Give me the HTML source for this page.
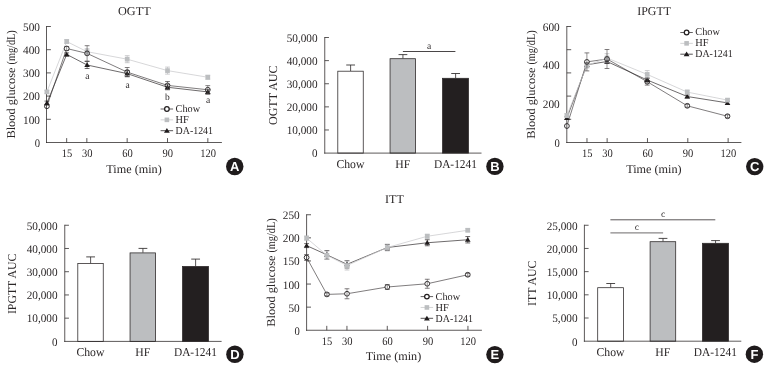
<!DOCTYPE html>
<html lang="en">
<head>
<meta charset="utf-8">
<title>OGTT, IPGTT and ITT in Chow, HF and DA-1241 groups</title>
<style>
html,body{margin:0;padding:0;background:#fff;}
body{width:770px;height:370px;overflow:hidden;}
svg{display:block;font-family:"Liberation Serif","DejaVu Serif",serif;will-change:transform;text-rendering:geometricPrecision;}
</style>
</head>
<body>
<svg width="770" height="370" viewBox="0 0 770 370">
<rect width="770" height="370" fill="#fff"/>
<polyline points="46.90,106.25 66.70,48.50 87.10,53.40 127.20,72.10 167.50,85.40 207.80,89.75" fill="none" stroke="#3a3637" stroke-width="0.65" stroke-linejoin="round"/>
<circle cx="46.90" cy="106.25" r="2.4" fill="#fff"/>
<circle cx="66.70" cy="48.50" r="2.4" fill="#fff"/>
<circle cx="87.10" cy="53.40" r="2.4" fill="#fff"/>
<circle cx="127.20" cy="72.10" r="2.4" fill="#fff"/>
<circle cx="167.50" cy="85.40" r="2.4" fill="#fff"/>
<circle cx="207.80" cy="89.75" r="2.4" fill="#fff"/>
<line x1="46.50" y1="26.00" x2="46.50" y2="143.00" stroke="#2e2a2b" stroke-width="0.78" stroke-linecap="butt"/>
<line x1="46.00" y1="142.50" x2="221.90" y2="142.50" stroke="#2e2a2b" stroke-width="0.78" stroke-linecap="butt"/>
<line x1="46.50" y1="26.50" x2="50.90" y2="26.50" stroke="#2e2a2b" stroke-width="0.78" stroke-linecap="butt"/>
<line x1="46.50" y1="49.70" x2="50.90" y2="49.70" stroke="#2e2a2b" stroke-width="0.78" stroke-linecap="butt"/>
<line x1="46.50" y1="72.90" x2="50.90" y2="72.90" stroke="#2e2a2b" stroke-width="0.78" stroke-linecap="butt"/>
<line x1="46.50" y1="96.10" x2="50.90" y2="96.10" stroke="#2e2a2b" stroke-width="0.78" stroke-linecap="butt"/>
<line x1="46.50" y1="119.30" x2="50.90" y2="119.30" stroke="#2e2a2b" stroke-width="0.78" stroke-linecap="butt"/>
<line x1="66.67" y1="142.50" x2="66.67" y2="138.10" stroke="#2e2a2b" stroke-width="0.78" stroke-linecap="butt"/>
<text x="66.97" y="156.90" font-size="11.5" text-anchor="middle" fill="#2b2728" textLength="10.50" lengthAdjust="spacingAndGlyphs">15</text>
<line x1="86.84" y1="142.50" x2="86.84" y2="138.10" stroke="#2e2a2b" stroke-width="0.78" stroke-linecap="butt"/>
<text x="87.14" y="156.90" font-size="11.5" text-anchor="middle" fill="#2b2728" textLength="10.50" lengthAdjust="spacingAndGlyphs">30</text>
<line x1="127.17" y1="142.50" x2="127.17" y2="138.10" stroke="#2e2a2b" stroke-width="0.78" stroke-linecap="butt"/>
<text x="127.47" y="156.90" font-size="11.5" text-anchor="middle" fill="#2b2728" textLength="10.50" lengthAdjust="spacingAndGlyphs">60</text>
<line x1="167.50" y1="142.50" x2="167.50" y2="138.10" stroke="#2e2a2b" stroke-width="0.78" stroke-linecap="butt"/>
<text x="167.81" y="156.90" font-size="11.5" text-anchor="middle" fill="#2b2728" textLength="10.50" lengthAdjust="spacingAndGlyphs">90</text>
<line x1="207.84" y1="142.50" x2="207.84" y2="138.10" stroke="#2e2a2b" stroke-width="0.78" stroke-linecap="butt"/>
<text x="208.14" y="156.90" font-size="11.5" text-anchor="middle" fill="#2b2728" textLength="15.75" lengthAdjust="spacingAndGlyphs">120</text>
<polyline points="46.90,103.10 66.70,54.40 87.10,65.00 127.20,73.60 167.50,87.25 207.80,91.90" fill="none" stroke="#2f2b2c" stroke-width="0.7" stroke-linejoin="round"/>
<line x1="46.90" y1="101.10" x2="46.90" y2="105.10" stroke="#2f2b2c" stroke-width="0.6" stroke-linecap="butt"/>
<line x1="44.50" y1="101.10" x2="49.30" y2="101.10" stroke="#2f2b2c" stroke-width="0.7" stroke-linecap="butt"/>
<line x1="44.50" y1="105.10" x2="49.30" y2="105.10" stroke="#2f2b2c" stroke-width="0.7" stroke-linecap="butt"/>
<line x1="66.70" y1="52.90" x2="66.70" y2="55.90" stroke="#2f2b2c" stroke-width="0.6" stroke-linecap="butt"/>
<line x1="64.30" y1="52.90" x2="69.10" y2="52.90" stroke="#2f2b2c" stroke-width="0.7" stroke-linecap="butt"/>
<line x1="64.30" y1="55.90" x2="69.10" y2="55.90" stroke="#2f2b2c" stroke-width="0.7" stroke-linecap="butt"/>
<line x1="87.10" y1="61.50" x2="87.10" y2="68.50" stroke="#2f2b2c" stroke-width="0.6" stroke-linecap="butt"/>
<line x1="84.70" y1="61.50" x2="89.50" y2="61.50" stroke="#2f2b2c" stroke-width="0.7" stroke-linecap="butt"/>
<line x1="84.70" y1="68.50" x2="89.50" y2="68.50" stroke="#2f2b2c" stroke-width="0.7" stroke-linecap="butt"/>
<line x1="127.20" y1="70.60" x2="127.20" y2="76.60" stroke="#2f2b2c" stroke-width="0.6" stroke-linecap="butt"/>
<line x1="124.80" y1="70.60" x2="129.60" y2="70.60" stroke="#2f2b2c" stroke-width="0.7" stroke-linecap="butt"/>
<line x1="124.80" y1="76.60" x2="129.60" y2="76.60" stroke="#2f2b2c" stroke-width="0.7" stroke-linecap="butt"/>
<line x1="167.50" y1="84.75" x2="167.50" y2="89.75" stroke="#2f2b2c" stroke-width="0.6" stroke-linecap="butt"/>
<line x1="165.10" y1="84.75" x2="169.90" y2="84.75" stroke="#2f2b2c" stroke-width="0.7" stroke-linecap="butt"/>
<line x1="165.10" y1="89.75" x2="169.90" y2="89.75" stroke="#2f2b2c" stroke-width="0.7" stroke-linecap="butt"/>
<line x1="207.80" y1="89.70" x2="207.80" y2="94.10" stroke="#2f2b2c" stroke-width="0.6" stroke-linecap="butt"/>
<line x1="205.40" y1="89.70" x2="210.20" y2="89.70" stroke="#2f2b2c" stroke-width="0.7" stroke-linecap="butt"/>
<line x1="205.40" y1="94.10" x2="210.20" y2="94.10" stroke="#2f2b2c" stroke-width="0.7" stroke-linecap="butt"/>
<path d="M46.90 100.40 L49.70 105.10 L44.10 105.10Z" fill="#1f1b1c"/>
<path d="M66.70 51.70 L69.50 56.40 L63.90 56.40Z" fill="#1f1b1c"/>
<path d="M87.10 62.30 L89.90 67.00 L84.30 67.00Z" fill="#1f1b1c"/>
<path d="M127.20 70.90 L130.00 75.60 L124.40 75.60Z" fill="#1f1b1c"/>
<path d="M167.50 84.55 L170.30 89.25 L164.70 89.25Z" fill="#1f1b1c"/>
<path d="M207.80 89.20 L210.60 93.90 L205.00 93.90Z" fill="#1f1b1c"/>
<polyline points="46.90,91.90 66.70,41.50 87.10,51.70 127.20,59.20 167.50,70.60 207.80,77.25" fill="none" stroke="#c9cacc" stroke-width="0.75" stroke-linejoin="round"/>
<line x1="46.90" y1="90.40" x2="46.90" y2="93.40" stroke="#b4b5b8" stroke-width="0.6" stroke-linecap="butt"/>
<line x1="44.50" y1="90.40" x2="49.30" y2="90.40" stroke="#b4b5b8" stroke-width="0.7" stroke-linecap="butt"/>
<line x1="44.50" y1="93.40" x2="49.30" y2="93.40" stroke="#b4b5b8" stroke-width="0.7" stroke-linecap="butt"/>
<line x1="66.70" y1="39.70" x2="66.70" y2="43.30" stroke="#b4b5b8" stroke-width="0.6" stroke-linecap="butt"/>
<line x1="64.30" y1="39.70" x2="69.10" y2="39.70" stroke="#b4b5b8" stroke-width="0.7" stroke-linecap="butt"/>
<line x1="64.30" y1="43.30" x2="69.10" y2="43.30" stroke="#b4b5b8" stroke-width="0.7" stroke-linecap="butt"/>
<line x1="87.10" y1="48.70" x2="87.10" y2="54.70" stroke="#b4b5b8" stroke-width="0.6" stroke-linecap="butt"/>
<line x1="84.70" y1="48.70" x2="89.50" y2="48.70" stroke="#b4b5b8" stroke-width="0.7" stroke-linecap="butt"/>
<line x1="84.70" y1="54.70" x2="89.50" y2="54.70" stroke="#b4b5b8" stroke-width="0.7" stroke-linecap="butt"/>
<line x1="127.20" y1="55.70" x2="127.20" y2="62.70" stroke="#b4b5b8" stroke-width="0.6" stroke-linecap="butt"/>
<line x1="124.80" y1="55.70" x2="129.60" y2="55.70" stroke="#b4b5b8" stroke-width="0.7" stroke-linecap="butt"/>
<line x1="124.80" y1="62.70" x2="129.60" y2="62.70" stroke="#b4b5b8" stroke-width="0.7" stroke-linecap="butt"/>
<line x1="167.50" y1="67.10" x2="167.50" y2="74.10" stroke="#b4b5b8" stroke-width="0.6" stroke-linecap="butt"/>
<line x1="165.10" y1="67.10" x2="169.90" y2="67.10" stroke="#b4b5b8" stroke-width="0.7" stroke-linecap="butt"/>
<line x1="165.10" y1="74.10" x2="169.90" y2="74.10" stroke="#b4b5b8" stroke-width="0.7" stroke-linecap="butt"/>
<line x1="207.80" y1="75.25" x2="207.80" y2="79.25" stroke="#b4b5b8" stroke-width="0.6" stroke-linecap="butt"/>
<line x1="205.40" y1="75.25" x2="210.20" y2="75.25" stroke="#b4b5b8" stroke-width="0.7" stroke-linecap="butt"/>
<line x1="205.40" y1="79.25" x2="210.20" y2="79.25" stroke="#b4b5b8" stroke-width="0.7" stroke-linecap="butt"/>
<rect x="44.55" y="89.55" width="4.7" height="4.7" fill="#bcbec0"/>
<rect x="64.35" y="39.15" width="4.7" height="4.7" fill="#bcbec0"/>
<rect x="84.75" y="49.35" width="4.7" height="4.7" fill="#bcbec0"/>
<rect x="124.85" y="56.85" width="4.7" height="4.7" fill="#bcbec0"/>
<rect x="165.15" y="68.25" width="4.7" height="4.7" fill="#bcbec0"/>
<rect x="205.45" y="74.90" width="4.7" height="4.7" fill="#bcbec0"/>
<circle cx="46.90" cy="106.25" r="2.4" fill="none" stroke="#231f20" stroke-width="0.9"/>
<circle cx="66.70" cy="48.50" r="2.4" fill="none" stroke="#231f20" stroke-width="0.9"/>
<circle cx="87.10" cy="53.40" r="2.4" fill="none" stroke="#231f20" stroke-width="0.9"/>
<circle cx="127.20" cy="72.10" r="2.4" fill="none" stroke="#231f20" stroke-width="0.9"/>
<circle cx="167.50" cy="85.40" r="2.4" fill="none" stroke="#231f20" stroke-width="0.9"/>
<circle cx="207.80" cy="89.75" r="2.4" fill="none" stroke="#231f20" stroke-width="0.9"/>
<line x1="66.70" y1="46.50" x2="66.70" y2="50.50" stroke="#4a4647" stroke-width="0.6" stroke-linecap="butt"/>
<line x1="64.30" y1="46.50" x2="69.10" y2="46.50" stroke="#4a4647" stroke-width="0.7" stroke-linecap="butt"/>
<line x1="64.30" y1="50.50" x2="69.10" y2="50.50" stroke="#4a4647" stroke-width="0.7" stroke-linecap="butt"/>
<line x1="87.10" y1="45.70" x2="87.10" y2="61.10" stroke="#4a4647" stroke-width="0.6" stroke-linecap="butt"/>
<line x1="84.70" y1="45.70" x2="89.50" y2="45.70" stroke="#4a4647" stroke-width="0.7" stroke-linecap="butt"/>
<line x1="84.70" y1="61.10" x2="89.50" y2="61.10" stroke="#4a4647" stroke-width="0.7" stroke-linecap="butt"/>
<line x1="127.20" y1="67.50" x2="127.20" y2="76.70" stroke="#4a4647" stroke-width="0.6" stroke-linecap="butt"/>
<line x1="124.80" y1="67.50" x2="129.60" y2="67.50" stroke="#4a4647" stroke-width="0.7" stroke-linecap="butt"/>
<line x1="124.80" y1="76.70" x2="129.60" y2="76.70" stroke="#4a4647" stroke-width="0.7" stroke-linecap="butt"/>
<line x1="167.50" y1="81.50" x2="167.50" y2="89.30" stroke="#4a4647" stroke-width="0.6" stroke-linecap="butt"/>
<line x1="165.10" y1="81.50" x2="169.90" y2="81.50" stroke="#4a4647" stroke-width="0.7" stroke-linecap="butt"/>
<line x1="165.10" y1="89.30" x2="169.90" y2="89.30" stroke="#4a4647" stroke-width="0.7" stroke-linecap="butt"/>
<line x1="207.80" y1="85.65" x2="207.80" y2="93.85" stroke="#4a4647" stroke-width="0.6" stroke-linecap="butt"/>
<line x1="205.40" y1="85.65" x2="210.20" y2="85.65" stroke="#4a4647" stroke-width="0.7" stroke-linecap="butt"/>
<line x1="205.40" y1="93.85" x2="210.20" y2="93.85" stroke="#4a4647" stroke-width="0.7" stroke-linecap="butt"/>
<text x="40.00" y="30.70" font-size="11.5" text-anchor="end" fill="#2b2728" textLength="16.95" lengthAdjust="spacingAndGlyphs">500</text>
<text x="40.00" y="53.90" font-size="11.5" text-anchor="end" fill="#2b2728" textLength="16.95" lengthAdjust="spacingAndGlyphs">400</text>
<text x="40.00" y="77.10" font-size="11.5" text-anchor="end" fill="#2b2728" textLength="16.95" lengthAdjust="spacingAndGlyphs">300</text>
<text x="40.00" y="100.30" font-size="11.5" text-anchor="end" fill="#2b2728" textLength="16.95" lengthAdjust="spacingAndGlyphs">200</text>
<text x="40.00" y="123.50" font-size="11.5" text-anchor="end" fill="#2b2728" textLength="16.95" lengthAdjust="spacingAndGlyphs">100</text>
<text x="40.00" y="146.70" font-size="11.5" text-anchor="end" fill="#2b2728" textLength="5.30" lengthAdjust="spacingAndGlyphs">0</text>
<text x="134.30" y="14.90" font-size="12" text-anchor="middle" fill="#2b2728" textLength="32.70" lengthAdjust="spacingAndGlyphs">OGTT</text>
<text x="15.50" y="138.60" font-size="12" text-anchor="start" fill="#2b2728" textLength="71.20" lengthAdjust="spacingAndGlyphs" transform="rotate(-90 15.50 138.60)">Blood glucose</text>
<text x="15.50" y="30.20" font-size="12" text-anchor="end" fill="#2b2728" textLength="34.30" lengthAdjust="spacingAndGlyphs" transform="rotate(-90 15.50 30.20)">(mg/dL)</text>
<text x="134.00" y="172.50" font-size="12" text-anchor="middle" fill="#2b2728" textLength="55.40" lengthAdjust="spacingAndGlyphs">Time (min)</text>
<line x1="160.60" y1="109.00" x2="173.10" y2="109.00" stroke="#3a3637" stroke-width="0.8" stroke-linecap="butt"/>
<circle cx="166.90" cy="109.00" r="2.3" fill="#fff" stroke="#231f20" stroke-width="1.25"/>
<text x="175.60" y="112.20" font-size="10.6" text-anchor="start" fill="#2b2728" textLength="24.60" lengthAdjust="spacingAndGlyphs">Chow</text>
<line x1="160.60" y1="119.85" x2="173.10" y2="119.85" stroke="#c9cacc" stroke-width="0.8" stroke-linecap="butt"/>
<rect x="164.60" y="117.55" width="4.6" height="4.6" fill="#bcbec0"/>
<text x="175.60" y="123.05" font-size="10.6" text-anchor="start" fill="#2b2728" textLength="13.30" lengthAdjust="spacingAndGlyphs">HF</text>
<line x1="160.60" y1="130.70" x2="173.10" y2="130.70" stroke="#2b2728" stroke-width="0.8" stroke-linecap="butt"/>
<path d="M166.90 128.10 L169.80 132.80 L164.00 132.80Z" fill="#1f1b1c"/>
<text x="175.60" y="133.90" font-size="10.6" text-anchor="start" fill="#2b2728" textLength="37.40" lengthAdjust="spacingAndGlyphs">DA-1241</text>
<text x="87.25" y="78.50" font-size="9.5" text-anchor="middle" fill="#2b2728">a</text>
<text x="127.50" y="87.50" font-size="9.5" text-anchor="middle" fill="#2b2728">a</text>
<text x="167.25" y="99.60" font-size="9.5" text-anchor="middle" fill="#2b2728">b</text>
<text x="208.10" y="102.75" font-size="9.5" text-anchor="middle" fill="#2b2728">a</text>
<circle cx="234.75" cy="166.50" r="8.7" fill="#1f1b1c"/>
<text x="234.75" y="171.20" font-size="13" text-anchor="middle" fill="#fff" font-weight="bold" font-family="'Liberation Sans',Arial,sans-serif">A</text>
<polyline points="566.90,126.00 586.90,61.90 607.00,59.00 647.20,81.70 687.25,105.80 727.50,116.25" fill="none" stroke="#3a3637" stroke-width="0.65" stroke-linejoin="round"/>
<circle cx="566.90" cy="126.00" r="2.4" fill="#fff"/>
<circle cx="586.90" cy="61.90" r="2.4" fill="#fff"/>
<circle cx="607.00" cy="59.00" r="2.4" fill="#fff"/>
<circle cx="647.20" cy="81.70" r="2.4" fill="#fff"/>
<circle cx="687.25" cy="105.80" r="2.4" fill="#fff"/>
<circle cx="727.50" cy="116.25" r="2.4" fill="#fff"/>
<line x1="566.80" y1="26.00" x2="566.80" y2="143.00" stroke="#2e2a2b" stroke-width="0.78" stroke-linecap="butt"/>
<line x1="566.30" y1="142.50" x2="741.40" y2="142.50" stroke="#2e2a2b" stroke-width="0.78" stroke-linecap="butt"/>
<line x1="566.80" y1="26.50" x2="571.20" y2="26.50" stroke="#2e2a2b" stroke-width="0.78" stroke-linecap="butt"/>
<line x1="566.80" y1="49.70" x2="571.20" y2="49.70" stroke="#2e2a2b" stroke-width="0.78" stroke-linecap="butt"/>
<line x1="566.80" y1="72.90" x2="571.20" y2="72.90" stroke="#2e2a2b" stroke-width="0.78" stroke-linecap="butt"/>
<line x1="566.80" y1="96.10" x2="571.20" y2="96.10" stroke="#2e2a2b" stroke-width="0.78" stroke-linecap="butt"/>
<line x1="566.80" y1="119.30" x2="571.20" y2="119.30" stroke="#2e2a2b" stroke-width="0.78" stroke-linecap="butt"/>
<line x1="586.97" y1="142.50" x2="586.97" y2="138.10" stroke="#2e2a2b" stroke-width="0.78" stroke-linecap="butt"/>
<text x="587.27" y="156.90" font-size="11.5" text-anchor="middle" fill="#2b2728" textLength="10.50" lengthAdjust="spacingAndGlyphs">15</text>
<line x1="607.13" y1="142.50" x2="607.13" y2="138.10" stroke="#2e2a2b" stroke-width="0.78" stroke-linecap="butt"/>
<text x="607.43" y="156.90" font-size="11.5" text-anchor="middle" fill="#2b2728" textLength="10.50" lengthAdjust="spacingAndGlyphs">30</text>
<line x1="647.47" y1="142.50" x2="647.47" y2="138.10" stroke="#2e2a2b" stroke-width="0.78" stroke-linecap="butt"/>
<text x="647.77" y="156.90" font-size="11.5" text-anchor="middle" fill="#2b2728" textLength="10.50" lengthAdjust="spacingAndGlyphs">60</text>
<line x1="687.80" y1="142.50" x2="687.80" y2="138.10" stroke="#2e2a2b" stroke-width="0.78" stroke-linecap="butt"/>
<text x="688.10" y="156.90" font-size="11.5" text-anchor="middle" fill="#2b2728" textLength="10.50" lengthAdjust="spacingAndGlyphs">90</text>
<line x1="728.14" y1="142.50" x2="728.14" y2="138.10" stroke="#2e2a2b" stroke-width="0.78" stroke-linecap="butt"/>
<text x="728.44" y="156.90" font-size="11.5" text-anchor="middle" fill="#2b2728" textLength="15.75" lengthAdjust="spacingAndGlyphs">120</text>
<polyline points="566.90,117.90 586.90,64.80 607.00,61.50 647.20,80.00 687.25,96.50 727.50,102.90" fill="none" stroke="#2f2b2c" stroke-width="0.7" stroke-linejoin="round"/>
<line x1="566.90" y1="116.40" x2="566.90" y2="119.40" stroke="#2f2b2c" stroke-width="0.6" stroke-linecap="butt"/>
<line x1="564.50" y1="116.40" x2="569.30" y2="116.40" stroke="#2f2b2c" stroke-width="0.7" stroke-linecap="butt"/>
<line x1="564.50" y1="119.40" x2="569.30" y2="119.40" stroke="#2f2b2c" stroke-width="0.7" stroke-linecap="butt"/>
<line x1="586.90" y1="62.80" x2="586.90" y2="66.80" stroke="#2f2b2c" stroke-width="0.6" stroke-linecap="butt"/>
<line x1="584.50" y1="62.80" x2="589.30" y2="62.80" stroke="#2f2b2c" stroke-width="0.7" stroke-linecap="butt"/>
<line x1="584.50" y1="66.80" x2="589.30" y2="66.80" stroke="#2f2b2c" stroke-width="0.7" stroke-linecap="butt"/>
<line x1="607.00" y1="59.50" x2="607.00" y2="63.50" stroke="#2f2b2c" stroke-width="0.6" stroke-linecap="butt"/>
<line x1="604.60" y1="59.50" x2="609.40" y2="59.50" stroke="#2f2b2c" stroke-width="0.7" stroke-linecap="butt"/>
<line x1="604.60" y1="63.50" x2="609.40" y2="63.50" stroke="#2f2b2c" stroke-width="0.7" stroke-linecap="butt"/>
<line x1="647.20" y1="78.00" x2="647.20" y2="82.00" stroke="#2f2b2c" stroke-width="0.6" stroke-linecap="butt"/>
<line x1="644.80" y1="78.00" x2="649.60" y2="78.00" stroke="#2f2b2c" stroke-width="0.7" stroke-linecap="butt"/>
<line x1="644.80" y1="82.00" x2="649.60" y2="82.00" stroke="#2f2b2c" stroke-width="0.7" stroke-linecap="butt"/>
<line x1="687.25" y1="95.00" x2="687.25" y2="98.00" stroke="#2f2b2c" stroke-width="0.6" stroke-linecap="butt"/>
<line x1="684.85" y1="95.00" x2="689.65" y2="95.00" stroke="#2f2b2c" stroke-width="0.7" stroke-linecap="butt"/>
<line x1="684.85" y1="98.00" x2="689.65" y2="98.00" stroke="#2f2b2c" stroke-width="0.7" stroke-linecap="butt"/>
<line x1="727.50" y1="101.40" x2="727.50" y2="104.40" stroke="#2f2b2c" stroke-width="0.6" stroke-linecap="butt"/>
<line x1="725.10" y1="101.40" x2="729.90" y2="101.40" stroke="#2f2b2c" stroke-width="0.7" stroke-linecap="butt"/>
<line x1="725.10" y1="104.40" x2="729.90" y2="104.40" stroke="#2f2b2c" stroke-width="0.7" stroke-linecap="butt"/>
<path d="M566.90 115.20 L569.70 119.90 L564.10 119.90Z" fill="#1f1b1c"/>
<path d="M586.90 62.10 L589.70 66.80 L584.10 66.80Z" fill="#1f1b1c"/>
<path d="M607.00 58.80 L609.80 63.50 L604.20 63.50Z" fill="#1f1b1c"/>
<path d="M647.20 77.30 L650.00 82.00 L644.40 82.00Z" fill="#1f1b1c"/>
<path d="M687.25 93.80 L690.05 98.50 L684.45 98.50Z" fill="#1f1b1c"/>
<path d="M727.50 100.20 L730.30 104.90 L724.70 104.90Z" fill="#1f1b1c"/>
<polyline points="566.90,115.60 586.90,65.50 607.00,58.00 647.20,74.40 687.25,92.10 727.50,100.10" fill="none" stroke="#c9cacc" stroke-width="0.75" stroke-linejoin="round"/>
<line x1="566.90" y1="113.60" x2="566.90" y2="117.60" stroke="#b4b5b8" stroke-width="0.6" stroke-linecap="butt"/>
<line x1="564.50" y1="113.60" x2="569.30" y2="113.60" stroke="#b4b5b8" stroke-width="0.7" stroke-linecap="butt"/>
<line x1="564.50" y1="117.60" x2="569.30" y2="117.60" stroke="#b4b5b8" stroke-width="0.7" stroke-linecap="butt"/>
<line x1="586.90" y1="63.00" x2="586.90" y2="68.00" stroke="#b4b5b8" stroke-width="0.6" stroke-linecap="butt"/>
<line x1="584.50" y1="63.00" x2="589.30" y2="63.00" stroke="#b4b5b8" stroke-width="0.7" stroke-linecap="butt"/>
<line x1="584.50" y1="68.00" x2="589.30" y2="68.00" stroke="#b4b5b8" stroke-width="0.7" stroke-linecap="butt"/>
<line x1="607.00" y1="53.70" x2="607.00" y2="62.30" stroke="#b4b5b8" stroke-width="0.6" stroke-linecap="butt"/>
<line x1="604.60" y1="53.70" x2="609.40" y2="53.70" stroke="#b4b5b8" stroke-width="0.7" stroke-linecap="butt"/>
<line x1="604.60" y1="62.30" x2="609.40" y2="62.30" stroke="#b4b5b8" stroke-width="0.7" stroke-linecap="butt"/>
<line x1="647.20" y1="70.60" x2="647.20" y2="78.20" stroke="#b4b5b8" stroke-width="0.6" stroke-linecap="butt"/>
<line x1="644.80" y1="70.60" x2="649.60" y2="70.60" stroke="#b4b5b8" stroke-width="0.7" stroke-linecap="butt"/>
<line x1="644.80" y1="78.20" x2="649.60" y2="78.20" stroke="#b4b5b8" stroke-width="0.7" stroke-linecap="butt"/>
<line x1="687.25" y1="90.10" x2="687.25" y2="94.10" stroke="#b4b5b8" stroke-width="0.6" stroke-linecap="butt"/>
<line x1="684.85" y1="90.10" x2="689.65" y2="90.10" stroke="#b4b5b8" stroke-width="0.7" stroke-linecap="butt"/>
<line x1="684.85" y1="94.10" x2="689.65" y2="94.10" stroke="#b4b5b8" stroke-width="0.7" stroke-linecap="butt"/>
<line x1="727.50" y1="98.60" x2="727.50" y2="101.60" stroke="#b4b5b8" stroke-width="0.6" stroke-linecap="butt"/>
<line x1="725.10" y1="98.60" x2="729.90" y2="98.60" stroke="#b4b5b8" stroke-width="0.7" stroke-linecap="butt"/>
<line x1="725.10" y1="101.60" x2="729.90" y2="101.60" stroke="#b4b5b8" stroke-width="0.7" stroke-linecap="butt"/>
<rect x="564.55" y="113.25" width="4.7" height="4.7" fill="#bcbec0"/>
<rect x="584.55" y="63.15" width="4.7" height="4.7" fill="#bcbec0"/>
<rect x="604.65" y="55.65" width="4.7" height="4.7" fill="#bcbec0"/>
<rect x="644.85" y="72.05" width="4.7" height="4.7" fill="#bcbec0"/>
<rect x="684.90" y="89.75" width="4.7" height="4.7" fill="#bcbec0"/>
<rect x="725.15" y="97.75" width="4.7" height="4.7" fill="#bcbec0"/>
<circle cx="566.90" cy="126.00" r="2.4" fill="none" stroke="#231f20" stroke-width="0.9"/>
<circle cx="586.90" cy="61.90" r="2.4" fill="none" stroke="#231f20" stroke-width="0.9"/>
<circle cx="607.00" cy="59.00" r="2.4" fill="none" stroke="#231f20" stroke-width="0.9"/>
<circle cx="647.20" cy="81.70" r="2.4" fill="none" stroke="#231f20" stroke-width="0.9"/>
<circle cx="687.25" cy="105.80" r="2.4" fill="none" stroke="#231f20" stroke-width="0.9"/>
<circle cx="727.50" cy="116.25" r="2.4" fill="none" stroke="#231f20" stroke-width="0.9"/>
<line x1="586.90" y1="52.90" x2="586.90" y2="70.90" stroke="#4a4647" stroke-width="0.6" stroke-linecap="butt"/>
<line x1="584.50" y1="52.90" x2="589.30" y2="52.90" stroke="#4a4647" stroke-width="0.7" stroke-linecap="butt"/>
<line x1="584.50" y1="70.90" x2="589.30" y2="70.90" stroke="#4a4647" stroke-width="0.7" stroke-linecap="butt"/>
<line x1="607.00" y1="49.50" x2="607.00" y2="68.50" stroke="#4a4647" stroke-width="0.6" stroke-linecap="butt"/>
<line x1="604.60" y1="49.50" x2="609.40" y2="49.50" stroke="#4a4647" stroke-width="0.7" stroke-linecap="butt"/>
<line x1="604.60" y1="68.50" x2="609.40" y2="68.50" stroke="#4a4647" stroke-width="0.7" stroke-linecap="butt"/>
<line x1="647.20" y1="78.30" x2="647.20" y2="85.10" stroke="#4a4647" stroke-width="0.6" stroke-linecap="butt"/>
<line x1="644.80" y1="78.30" x2="649.60" y2="78.30" stroke="#4a4647" stroke-width="0.7" stroke-linecap="butt"/>
<line x1="644.80" y1="85.10" x2="649.60" y2="85.10" stroke="#4a4647" stroke-width="0.7" stroke-linecap="butt"/>
<line x1="687.25" y1="104.30" x2="687.25" y2="107.30" stroke="#4a4647" stroke-width="0.6" stroke-linecap="butt"/>
<line x1="684.85" y1="104.30" x2="689.65" y2="104.30" stroke="#4a4647" stroke-width="0.7" stroke-linecap="butt"/>
<line x1="684.85" y1="107.30" x2="689.65" y2="107.30" stroke="#4a4647" stroke-width="0.7" stroke-linecap="butt"/>
<line x1="727.50" y1="114.75" x2="727.50" y2="117.75" stroke="#4a4647" stroke-width="0.6" stroke-linecap="butt"/>
<line x1="725.10" y1="114.75" x2="729.90" y2="114.75" stroke="#4a4647" stroke-width="0.7" stroke-linecap="butt"/>
<line x1="725.10" y1="117.75" x2="729.90" y2="117.75" stroke="#4a4647" stroke-width="0.7" stroke-linecap="butt"/>
<text x="559.75" y="30.70" font-size="11.5" text-anchor="end" fill="#2b2728" textLength="16.95" lengthAdjust="spacingAndGlyphs">600</text>
<text x="559.75" y="69.37" font-size="11.5" text-anchor="end" fill="#2b2728" textLength="16.95" lengthAdjust="spacingAndGlyphs">400</text>
<text x="559.75" y="108.04" font-size="11.5" text-anchor="end" fill="#2b2728" textLength="16.95" lengthAdjust="spacingAndGlyphs">200</text>
<text x="559.75" y="146.71" font-size="11.5" text-anchor="end" fill="#2b2728" textLength="5.30" lengthAdjust="spacingAndGlyphs">0</text>
<text x="654.10" y="14.90" font-size="12" text-anchor="middle" fill="#2b2728" textLength="33.75" lengthAdjust="spacingAndGlyphs">IPGTT</text>
<text x="535.50" y="138.70" font-size="12" text-anchor="start" fill="#2b2728" textLength="71.20" lengthAdjust="spacingAndGlyphs" transform="rotate(-90 535.50 138.70)">Blood glucose</text>
<text x="535.50" y="30.30" font-size="12" text-anchor="end" fill="#2b2728" textLength="34.30" lengthAdjust="spacingAndGlyphs" transform="rotate(-90 535.50 30.30)">(mg/dL)</text>
<text x="653.90" y="172.50" font-size="12" text-anchor="middle" fill="#2b2728" textLength="55.40" lengthAdjust="spacingAndGlyphs">Time (min)</text>
<line x1="680.30" y1="32.50" x2="692.80" y2="32.50" stroke="#3a3637" stroke-width="0.8" stroke-linecap="butt"/>
<circle cx="686.60" cy="32.50" r="2.3" fill="#fff" stroke="#231f20" stroke-width="1.25"/>
<text x="695.30" y="35.10" font-size="10.6" text-anchor="start" fill="#2b2728" textLength="24.60" lengthAdjust="spacingAndGlyphs">Chow</text>
<line x1="680.30" y1="43.35" x2="692.80" y2="43.35" stroke="#c9cacc" stroke-width="0.8" stroke-linecap="butt"/>
<rect x="684.30" y="41.05" width="4.6" height="4.6" fill="#bcbec0"/>
<text x="695.30" y="45.95" font-size="10.6" text-anchor="start" fill="#2b2728" textLength="13.30" lengthAdjust="spacingAndGlyphs">HF</text>
<line x1="680.30" y1="54.20" x2="692.80" y2="54.20" stroke="#2b2728" stroke-width="0.8" stroke-linecap="butt"/>
<path d="M686.60 51.60 L689.50 56.30 L683.70 56.30Z" fill="#1f1b1c"/>
<text x="695.30" y="56.80" font-size="10.6" text-anchor="start" fill="#2b2728" textLength="37.40" lengthAdjust="spacingAndGlyphs">DA-1241</text>
<circle cx="754.70" cy="166.60" r="8.7" fill="#1f1b1c"/>
<text x="754.70" y="171.30" font-size="13" text-anchor="middle" fill="#fff" font-weight="bold" font-family="'Liberation Sans',Arial,sans-serif">C</text>
<polyline points="306.60,257.50 326.90,294.40 347.00,293.75 387.30,287.00 427.25,283.75 467.75,274.75" fill="none" stroke="#3a3637" stroke-width="0.65" stroke-linejoin="round"/>
<circle cx="306.60" cy="257.50" r="2.4" fill="#fff"/>
<circle cx="326.90" cy="294.40" r="2.4" fill="#fff"/>
<circle cx="347.00" cy="293.75" r="2.4" fill="#fff"/>
<circle cx="387.30" cy="287.00" r="2.4" fill="#fff"/>
<circle cx="427.25" cy="283.75" r="2.4" fill="#fff"/>
<circle cx="467.75" cy="274.75" r="2.4" fill="#fff"/>
<line x1="306.60" y1="214.25" x2="306.60" y2="330.75" stroke="#2e2a2b" stroke-width="0.78" stroke-linecap="butt"/>
<line x1="306.10" y1="330.25" x2="481.90" y2="330.25" stroke="#2e2a2b" stroke-width="0.78" stroke-linecap="butt"/>
<line x1="306.60" y1="214.75" x2="311.00" y2="214.75" stroke="#2e2a2b" stroke-width="0.78" stroke-linecap="butt"/>
<line x1="306.60" y1="237.85" x2="311.00" y2="237.85" stroke="#2e2a2b" stroke-width="0.78" stroke-linecap="butt"/>
<line x1="306.60" y1="260.95" x2="311.00" y2="260.95" stroke="#2e2a2b" stroke-width="0.78" stroke-linecap="butt"/>
<line x1="306.60" y1="284.05" x2="311.00" y2="284.05" stroke="#2e2a2b" stroke-width="0.78" stroke-linecap="butt"/>
<line x1="306.60" y1="307.15" x2="311.00" y2="307.15" stroke="#2e2a2b" stroke-width="0.78" stroke-linecap="butt"/>
<line x1="326.77" y1="330.25" x2="326.77" y2="325.85" stroke="#2e2a2b" stroke-width="0.78" stroke-linecap="butt"/>
<text x="327.07" y="344.65" font-size="11.5" text-anchor="middle" fill="#2b2728" textLength="10.50" lengthAdjust="spacingAndGlyphs">15</text>
<line x1="346.94" y1="330.25" x2="346.94" y2="325.85" stroke="#2e2a2b" stroke-width="0.78" stroke-linecap="butt"/>
<text x="347.24" y="344.65" font-size="11.5" text-anchor="middle" fill="#2b2728" textLength="10.50" lengthAdjust="spacingAndGlyphs">30</text>
<line x1="387.27" y1="330.25" x2="387.27" y2="325.85" stroke="#2e2a2b" stroke-width="0.78" stroke-linecap="butt"/>
<text x="387.57" y="344.65" font-size="11.5" text-anchor="middle" fill="#2b2728" textLength="10.50" lengthAdjust="spacingAndGlyphs">60</text>
<line x1="427.61" y1="330.25" x2="427.61" y2="325.85" stroke="#2e2a2b" stroke-width="0.78" stroke-linecap="butt"/>
<text x="427.91" y="344.65" font-size="11.5" text-anchor="middle" fill="#2b2728" textLength="10.50" lengthAdjust="spacingAndGlyphs">90</text>
<line x1="467.94" y1="330.25" x2="467.94" y2="325.85" stroke="#2e2a2b" stroke-width="0.78" stroke-linecap="butt"/>
<text x="468.24" y="344.65" font-size="11.5" text-anchor="middle" fill="#2b2728" textLength="15.75" lengthAdjust="spacingAndGlyphs">120</text>
<polyline points="306.60,245.60 326.90,254.80 347.00,264.30 387.30,247.50 427.25,242.75 467.75,239.75" fill="none" stroke="#2f2b2c" stroke-width="0.7" stroke-linejoin="round"/>
<line x1="306.60" y1="243.60" x2="306.60" y2="247.60" stroke="#2f2b2c" stroke-width="0.6" stroke-linecap="butt"/>
<line x1="304.20" y1="243.60" x2="309.00" y2="243.60" stroke="#2f2b2c" stroke-width="0.7" stroke-linecap="butt"/>
<line x1="304.20" y1="247.60" x2="309.00" y2="247.60" stroke="#2f2b2c" stroke-width="0.7" stroke-linecap="butt"/>
<line x1="326.90" y1="250.50" x2="326.90" y2="259.10" stroke="#2f2b2c" stroke-width="0.6" stroke-linecap="butt"/>
<line x1="324.50" y1="250.50" x2="329.30" y2="250.50" stroke="#2f2b2c" stroke-width="0.7" stroke-linecap="butt"/>
<line x1="324.50" y1="259.10" x2="329.30" y2="259.10" stroke="#2f2b2c" stroke-width="0.7" stroke-linecap="butt"/>
<line x1="347.00" y1="260.60" x2="347.00" y2="268.00" stroke="#2f2b2c" stroke-width="0.6" stroke-linecap="butt"/>
<line x1="344.60" y1="260.60" x2="349.40" y2="260.60" stroke="#2f2b2c" stroke-width="0.7" stroke-linecap="butt"/>
<line x1="344.60" y1="268.00" x2="349.40" y2="268.00" stroke="#2f2b2c" stroke-width="0.7" stroke-linecap="butt"/>
<line x1="387.30" y1="244.50" x2="387.30" y2="250.50" stroke="#2f2b2c" stroke-width="0.6" stroke-linecap="butt"/>
<line x1="384.90" y1="244.50" x2="389.70" y2="244.50" stroke="#2f2b2c" stroke-width="0.7" stroke-linecap="butt"/>
<line x1="384.90" y1="250.50" x2="389.70" y2="250.50" stroke="#2f2b2c" stroke-width="0.7" stroke-linecap="butt"/>
<line x1="427.25" y1="239.75" x2="427.25" y2="245.75" stroke="#2f2b2c" stroke-width="0.6" stroke-linecap="butt"/>
<line x1="424.85" y1="239.75" x2="429.65" y2="239.75" stroke="#2f2b2c" stroke-width="0.7" stroke-linecap="butt"/>
<line x1="424.85" y1="245.75" x2="429.65" y2="245.75" stroke="#2f2b2c" stroke-width="0.7" stroke-linecap="butt"/>
<line x1="467.75" y1="236.55" x2="467.75" y2="242.95" stroke="#2f2b2c" stroke-width="0.6" stroke-linecap="butt"/>
<line x1="465.35" y1="236.55" x2="470.15" y2="236.55" stroke="#2f2b2c" stroke-width="0.7" stroke-linecap="butt"/>
<line x1="465.35" y1="242.95" x2="470.15" y2="242.95" stroke="#2f2b2c" stroke-width="0.7" stroke-linecap="butt"/>
<path d="M306.60 242.90 L309.40 247.60 L303.80 247.60Z" fill="#1f1b1c"/>
<path d="M326.90 252.10 L329.70 256.80 L324.10 256.80Z" fill="#1f1b1c"/>
<path d="M347.00 261.60 L349.80 266.30 L344.20 266.30Z" fill="#1f1b1c"/>
<path d="M387.30 244.80 L390.10 249.50 L384.50 249.50Z" fill="#1f1b1c"/>
<path d="M427.25 240.05 L430.05 244.75 L424.45 244.75Z" fill="#1f1b1c"/>
<path d="M467.75 237.05 L470.55 241.75 L464.95 241.75Z" fill="#1f1b1c"/>
<polyline points="306.60,238.10 326.90,255.30 347.00,265.50 387.30,247.50 427.25,236.25 467.75,230.25" fill="none" stroke="#c9cacc" stroke-width="0.75" stroke-linejoin="round"/>
<line x1="306.60" y1="236.10" x2="306.60" y2="240.10" stroke="#b4b5b8" stroke-width="0.6" stroke-linecap="butt"/>
<line x1="304.20" y1="236.10" x2="309.00" y2="236.10" stroke="#b4b5b8" stroke-width="0.7" stroke-linecap="butt"/>
<line x1="304.20" y1="240.10" x2="309.00" y2="240.10" stroke="#b4b5b8" stroke-width="0.7" stroke-linecap="butt"/>
<line x1="326.90" y1="251.10" x2="326.90" y2="259.50" stroke="#b4b5b8" stroke-width="0.6" stroke-linecap="butt"/>
<line x1="324.50" y1="251.10" x2="329.30" y2="251.10" stroke="#b4b5b8" stroke-width="0.7" stroke-linecap="butt"/>
<line x1="324.50" y1="259.50" x2="329.30" y2="259.50" stroke="#b4b5b8" stroke-width="0.7" stroke-linecap="butt"/>
<line x1="347.00" y1="261.00" x2="347.00" y2="270.00" stroke="#b4b5b8" stroke-width="0.6" stroke-linecap="butt"/>
<line x1="344.60" y1="261.00" x2="349.40" y2="261.00" stroke="#b4b5b8" stroke-width="0.7" stroke-linecap="butt"/>
<line x1="344.60" y1="270.00" x2="349.40" y2="270.00" stroke="#b4b5b8" stroke-width="0.7" stroke-linecap="butt"/>
<line x1="387.30" y1="244.10" x2="387.30" y2="250.90" stroke="#b4b5b8" stroke-width="0.6" stroke-linecap="butt"/>
<line x1="384.90" y1="244.10" x2="389.70" y2="244.10" stroke="#b4b5b8" stroke-width="0.7" stroke-linecap="butt"/>
<line x1="384.90" y1="250.90" x2="389.70" y2="250.90" stroke="#b4b5b8" stroke-width="0.7" stroke-linecap="butt"/>
<line x1="427.25" y1="234.25" x2="427.25" y2="238.25" stroke="#b4b5b8" stroke-width="0.6" stroke-linecap="butt"/>
<line x1="424.85" y1="234.25" x2="429.65" y2="234.25" stroke="#b4b5b8" stroke-width="0.7" stroke-linecap="butt"/>
<line x1="424.85" y1="238.25" x2="429.65" y2="238.25" stroke="#b4b5b8" stroke-width="0.7" stroke-linecap="butt"/>
<line x1="467.75" y1="228.75" x2="467.75" y2="231.75" stroke="#b4b5b8" stroke-width="0.6" stroke-linecap="butt"/>
<line x1="465.35" y1="228.75" x2="470.15" y2="228.75" stroke="#b4b5b8" stroke-width="0.7" stroke-linecap="butt"/>
<line x1="465.35" y1="231.75" x2="470.15" y2="231.75" stroke="#b4b5b8" stroke-width="0.7" stroke-linecap="butt"/>
<rect x="304.25" y="235.75" width="4.7" height="4.7" fill="#bcbec0"/>
<rect x="324.55" y="252.95" width="4.7" height="4.7" fill="#bcbec0"/>
<rect x="344.65" y="263.15" width="4.7" height="4.7" fill="#bcbec0"/>
<rect x="384.95" y="245.15" width="4.7" height="4.7" fill="#bcbec0"/>
<rect x="424.90" y="233.90" width="4.7" height="4.7" fill="#bcbec0"/>
<rect x="465.40" y="227.90" width="4.7" height="4.7" fill="#bcbec0"/>
<circle cx="306.60" cy="257.50" r="2.4" fill="none" stroke="#231f20" stroke-width="0.9"/>
<circle cx="326.90" cy="294.40" r="2.4" fill="none" stroke="#231f20" stroke-width="0.9"/>
<circle cx="347.00" cy="293.75" r="2.4" fill="none" stroke="#231f20" stroke-width="0.9"/>
<circle cx="387.30" cy="287.00" r="2.4" fill="none" stroke="#231f20" stroke-width="0.9"/>
<circle cx="427.25" cy="283.75" r="2.4" fill="none" stroke="#231f20" stroke-width="0.9"/>
<circle cx="467.75" cy="274.75" r="2.4" fill="none" stroke="#231f20" stroke-width="0.9"/>
<line x1="306.60" y1="254.50" x2="306.60" y2="260.50" stroke="#4a4647" stroke-width="0.6" stroke-linecap="butt"/>
<line x1="304.20" y1="254.50" x2="309.00" y2="254.50" stroke="#4a4647" stroke-width="0.7" stroke-linecap="butt"/>
<line x1="304.20" y1="260.50" x2="309.00" y2="260.50" stroke="#4a4647" stroke-width="0.7" stroke-linecap="butt"/>
<line x1="326.90" y1="292.90" x2="326.90" y2="295.90" stroke="#4a4647" stroke-width="0.6" stroke-linecap="butt"/>
<line x1="324.50" y1="292.90" x2="329.30" y2="292.90" stroke="#4a4647" stroke-width="0.7" stroke-linecap="butt"/>
<line x1="324.50" y1="295.90" x2="329.30" y2="295.90" stroke="#4a4647" stroke-width="0.7" stroke-linecap="butt"/>
<line x1="347.00" y1="288.75" x2="347.00" y2="298.75" stroke="#4a4647" stroke-width="0.6" stroke-linecap="butt"/>
<line x1="344.60" y1="288.75" x2="349.40" y2="288.75" stroke="#4a4647" stroke-width="0.7" stroke-linecap="butt"/>
<line x1="344.60" y1="298.75" x2="349.40" y2="298.75" stroke="#4a4647" stroke-width="0.7" stroke-linecap="butt"/>
<line x1="387.30" y1="284.50" x2="387.30" y2="289.50" stroke="#4a4647" stroke-width="0.6" stroke-linecap="butt"/>
<line x1="384.90" y1="284.50" x2="389.70" y2="284.50" stroke="#4a4647" stroke-width="0.7" stroke-linecap="butt"/>
<line x1="384.90" y1="289.50" x2="389.70" y2="289.50" stroke="#4a4647" stroke-width="0.7" stroke-linecap="butt"/>
<line x1="427.25" y1="279.25" x2="427.25" y2="288.25" stroke="#4a4647" stroke-width="0.6" stroke-linecap="butt"/>
<line x1="424.85" y1="279.25" x2="429.65" y2="279.25" stroke="#4a4647" stroke-width="0.7" stroke-linecap="butt"/>
<line x1="424.85" y1="288.25" x2="429.65" y2="288.25" stroke="#4a4647" stroke-width="0.7" stroke-linecap="butt"/>
<line x1="467.75" y1="273.25" x2="467.75" y2="276.25" stroke="#4a4647" stroke-width="0.6" stroke-linecap="butt"/>
<line x1="465.35" y1="273.25" x2="470.15" y2="273.25" stroke="#4a4647" stroke-width="0.7" stroke-linecap="butt"/>
<line x1="465.35" y1="276.25" x2="470.15" y2="276.25" stroke="#4a4647" stroke-width="0.7" stroke-linecap="butt"/>
<text x="299.75" y="218.80" font-size="11.5" text-anchor="end" fill="#2b2728" textLength="16.95" lengthAdjust="spacingAndGlyphs">250</text>
<text x="299.75" y="242.13" font-size="11.5" text-anchor="end" fill="#2b2728" textLength="16.95" lengthAdjust="spacingAndGlyphs">200</text>
<text x="299.75" y="265.46" font-size="11.5" text-anchor="end" fill="#2b2728" textLength="16.95" lengthAdjust="spacingAndGlyphs">150</text>
<text x="299.75" y="288.79" font-size="11.5" text-anchor="end" fill="#2b2728" textLength="16.95" lengthAdjust="spacingAndGlyphs">100</text>
<text x="299.75" y="312.12" font-size="11.5" text-anchor="end" fill="#2b2728" textLength="11.30" lengthAdjust="spacingAndGlyphs">50</text>
<text x="299.75" y="335.45" font-size="11.5" text-anchor="end" fill="#2b2728" textLength="5.30" lengthAdjust="spacingAndGlyphs">0</text>
<text x="394.40" y="203.15" font-size="12" text-anchor="middle" fill="#2b2728" textLength="18.75" lengthAdjust="spacingAndGlyphs">ITT</text>
<text x="275.10" y="326.70" font-size="12" text-anchor="start" fill="#2b2728" textLength="71.20" lengthAdjust="spacingAndGlyphs" transform="rotate(-90 275.10 326.70)">Blood glucose</text>
<text x="275.10" y="218.30" font-size="12" text-anchor="end" fill="#2b2728" textLength="34.30" lengthAdjust="spacingAndGlyphs" transform="rotate(-90 275.10 218.30)">(mg/dL)</text>
<text x="393.50" y="360.25" font-size="12" text-anchor="middle" fill="#2b2728" textLength="55.40" lengthAdjust="spacingAndGlyphs">Time (min)</text>
<line x1="420.60" y1="296.60" x2="433.10" y2="296.60" stroke="#3a3637" stroke-width="0.8" stroke-linecap="butt"/>
<circle cx="426.90" cy="296.60" r="2.3" fill="#fff" stroke="#231f20" stroke-width="1.25"/>
<text x="435.60" y="299.90" font-size="10.6" text-anchor="start" fill="#2b2728" textLength="24.60" lengthAdjust="spacingAndGlyphs">Chow</text>
<line x1="420.60" y1="307.45" x2="433.10" y2="307.45" stroke="#c9cacc" stroke-width="0.8" stroke-linecap="butt"/>
<rect x="424.60" y="305.15" width="4.6" height="4.6" fill="#bcbec0"/>
<text x="435.60" y="310.75" font-size="10.6" text-anchor="start" fill="#2b2728" textLength="13.30" lengthAdjust="spacingAndGlyphs">HF</text>
<line x1="420.60" y1="318.30" x2="433.10" y2="318.30" stroke="#2b2728" stroke-width="0.8" stroke-linecap="butt"/>
<path d="M426.90 315.70 L429.80 320.40 L424.00 320.40Z" fill="#1f1b1c"/>
<text x="435.60" y="321.60" font-size="10.6" text-anchor="start" fill="#2b2728" textLength="37.40" lengthAdjust="spacingAndGlyphs">DA-1241</text>
<circle cx="494.90" cy="354.60" r="8.7" fill="#1f1b1c"/>
<text x="494.90" y="359.30" font-size="13" text-anchor="middle" fill="#fff" font-weight="bold" font-family="'Liberation Sans',Arial,sans-serif">E</text>
<line x1="350.62" y1="65.00" x2="350.62" y2="71.00" stroke="#2e2a2b" stroke-width="0.8" stroke-linecap="butt"/>
<line x1="346.23" y1="65.00" x2="355.02" y2="65.00" stroke="#2e2a2b" stroke-width="0.85" stroke-linecap="butt"/>
<rect x="337.80" y="71.20" width="25.45" height="81.90" fill="#fff" stroke="#2e2a2b" stroke-width="0.78"/>
<line x1="402.93" y1="54.60" x2="402.93" y2="58.50" stroke="#2e2a2b" stroke-width="0.8" stroke-linecap="butt"/>
<line x1="398.53" y1="54.60" x2="407.32" y2="54.60" stroke="#2e2a2b" stroke-width="0.85" stroke-linecap="butt"/>
<rect x="390.05" y="58.70" width="25.55" height="94.40" fill="#bcbec0" stroke="#2e2a2b" stroke-width="0.78"/>
<line x1="455.62" y1="73.50" x2="455.62" y2="78.10" stroke="#2e2a2b" stroke-width="0.8" stroke-linecap="butt"/>
<line x1="451.23" y1="73.50" x2="460.02" y2="73.50" stroke="#2e2a2b" stroke-width="0.85" stroke-linecap="butt"/>
<rect x="442.55" y="78.30" width="25.95" height="74.80" fill="#231f20" stroke="#2e2a2b" stroke-width="0.78"/>
<line x1="324.75" y1="37.00" x2="324.75" y2="153.60" stroke="#2e2a2b" stroke-width="0.78" stroke-linecap="butt"/>
<line x1="324.25" y1="153.10" x2="481.50" y2="153.10" stroke="#2e2a2b" stroke-width="0.78" stroke-linecap="butt"/>
<line x1="324.75" y1="37.50" x2="328.95" y2="37.50" stroke="#2e2a2b" stroke-width="0.78" stroke-linecap="butt"/>
<text x="317.60" y="41.80" font-size="11.5" text-anchor="end" fill="#2b2728" textLength="30.90" lengthAdjust="spacingAndGlyphs">50,000</text>
<line x1="324.75" y1="60.62" x2="328.95" y2="60.62" stroke="#2e2a2b" stroke-width="0.78" stroke-linecap="butt"/>
<text x="317.60" y="64.92" font-size="11.5" text-anchor="end" fill="#2b2728" textLength="30.90" lengthAdjust="spacingAndGlyphs">40,000</text>
<line x1="324.75" y1="83.74" x2="328.95" y2="83.74" stroke="#2e2a2b" stroke-width="0.78" stroke-linecap="butt"/>
<text x="317.60" y="88.04" font-size="11.5" text-anchor="end" fill="#2b2728" textLength="30.90" lengthAdjust="spacingAndGlyphs">30,000</text>
<line x1="324.75" y1="106.86" x2="328.95" y2="106.86" stroke="#2e2a2b" stroke-width="0.78" stroke-linecap="butt"/>
<text x="317.60" y="111.16" font-size="11.5" text-anchor="end" fill="#2b2728" textLength="30.90" lengthAdjust="spacingAndGlyphs">20,000</text>
<line x1="324.75" y1="129.98" x2="328.95" y2="129.98" stroke="#2e2a2b" stroke-width="0.78" stroke-linecap="butt"/>
<text x="317.60" y="134.28" font-size="11.5" text-anchor="end" fill="#2b2728" textLength="30.90" lengthAdjust="spacingAndGlyphs">10,000</text>
<text x="317.60" y="157.40" font-size="11.5" text-anchor="end" fill="#2b2728" textLength="5.50" lengthAdjust="spacingAndGlyphs">0</text>
<text x="276.50" y="95.25" font-size="12" text-anchor="middle" fill="#2b2728" textLength="59.50" lengthAdjust="spacingAndGlyphs" transform="rotate(-90 276.50 95.25)">OGTT AUC</text>
<text x="350.43" y="167.60" font-size="12" text-anchor="middle" fill="#2b2728" textLength="28.00" lengthAdjust="spacingAndGlyphs">Chow</text>
<text x="402.73" y="167.60" font-size="12" text-anchor="middle" fill="#2b2728" textLength="15.00" lengthAdjust="spacingAndGlyphs">HF</text>
<text x="455.43" y="167.60" font-size="12" text-anchor="middle" fill="#2b2728" textLength="43.00" lengthAdjust="spacingAndGlyphs">DA-1241</text>
<line x1="402.90" y1="51.50" x2="455.40" y2="51.50" stroke="#4a4647" stroke-width="1.0" stroke-linecap="butt"/>
<text x="429.00" y="48.75" font-size="9.5" text-anchor="middle" fill="#2b2728">a</text>
<circle cx="494.90" cy="166.40" r="8.7" fill="#1f1b1c"/>
<text x="494.90" y="171.10" font-size="13" text-anchor="middle" fill="#fff" font-weight="bold" font-family="'Liberation Sans',Arial,sans-serif">B</text>
<line x1="90.62" y1="256.90" x2="90.62" y2="263.40" stroke="#2e2a2b" stroke-width="0.8" stroke-linecap="butt"/>
<line x1="86.22" y1="256.90" x2="95.03" y2="256.90" stroke="#2e2a2b" stroke-width="0.85" stroke-linecap="butt"/>
<rect x="77.80" y="263.60" width="25.45" height="77.80" fill="#fff" stroke="#2e2a2b" stroke-width="0.78"/>
<line x1="142.93" y1="248.40" x2="142.93" y2="252.70" stroke="#2e2a2b" stroke-width="0.8" stroke-linecap="butt"/>
<line x1="138.53" y1="248.40" x2="147.33" y2="248.40" stroke="#2e2a2b" stroke-width="0.85" stroke-linecap="butt"/>
<rect x="130.05" y="252.90" width="25.55" height="88.50" fill="#bcbec0" stroke="#2e2a2b" stroke-width="0.78"/>
<line x1="195.62" y1="259.10" x2="195.62" y2="266.25" stroke="#2e2a2b" stroke-width="0.8" stroke-linecap="butt"/>
<line x1="191.22" y1="259.10" x2="200.03" y2="259.10" stroke="#2e2a2b" stroke-width="0.85" stroke-linecap="butt"/>
<rect x="182.55" y="266.45" width="25.95" height="74.95" fill="#231f20" stroke="#2e2a2b" stroke-width="0.78"/>
<line x1="64.75" y1="224.75" x2="64.75" y2="341.90" stroke="#2e2a2b" stroke-width="0.78" stroke-linecap="butt"/>
<line x1="64.25" y1="341.40" x2="221.60" y2="341.40" stroke="#2e2a2b" stroke-width="0.78" stroke-linecap="butt"/>
<line x1="64.75" y1="225.25" x2="68.95" y2="225.25" stroke="#2e2a2b" stroke-width="0.78" stroke-linecap="butt"/>
<text x="57.60" y="229.55" font-size="11.5" text-anchor="end" fill="#2b2728" textLength="30.90" lengthAdjust="spacingAndGlyphs">50,000</text>
<line x1="64.75" y1="248.48" x2="68.95" y2="248.48" stroke="#2e2a2b" stroke-width="0.78" stroke-linecap="butt"/>
<text x="57.60" y="252.78" font-size="11.5" text-anchor="end" fill="#2b2728" textLength="30.90" lengthAdjust="spacingAndGlyphs">40,000</text>
<line x1="64.75" y1="271.71" x2="68.95" y2="271.71" stroke="#2e2a2b" stroke-width="0.78" stroke-linecap="butt"/>
<text x="57.60" y="276.01" font-size="11.5" text-anchor="end" fill="#2b2728" textLength="30.90" lengthAdjust="spacingAndGlyphs">30,000</text>
<line x1="64.75" y1="294.94" x2="68.95" y2="294.94" stroke="#2e2a2b" stroke-width="0.78" stroke-linecap="butt"/>
<text x="57.60" y="299.24" font-size="11.5" text-anchor="end" fill="#2b2728" textLength="30.90" lengthAdjust="spacingAndGlyphs">20,000</text>
<line x1="64.75" y1="318.17" x2="68.95" y2="318.17" stroke="#2e2a2b" stroke-width="0.78" stroke-linecap="butt"/>
<text x="57.60" y="322.47" font-size="11.5" text-anchor="end" fill="#2b2728" textLength="30.90" lengthAdjust="spacingAndGlyphs">10,000</text>
<text x="57.60" y="345.70" font-size="11.5" text-anchor="end" fill="#2b2728" textLength="5.50" lengthAdjust="spacingAndGlyphs">0</text>
<text x="16.50" y="283.90" font-size="12" text-anchor="middle" fill="#2b2728" textLength="60.40" lengthAdjust="spacingAndGlyphs" transform="rotate(-90 16.50 283.90)">IPGTT AUC</text>
<text x="90.42" y="355.90" font-size="12" text-anchor="middle" fill="#2b2728" textLength="28.00" lengthAdjust="spacingAndGlyphs">Chow</text>
<text x="142.73" y="355.90" font-size="12" text-anchor="middle" fill="#2b2728" textLength="15.00" lengthAdjust="spacingAndGlyphs">HF</text>
<text x="195.43" y="355.90" font-size="12" text-anchor="middle" fill="#2b2728" textLength="43.00" lengthAdjust="spacingAndGlyphs">DA-1241</text>
<circle cx="234.90" cy="354.25" r="8.7" fill="#1f1b1c"/>
<text x="234.90" y="358.95" font-size="13" text-anchor="middle" fill="#fff" font-weight="bold" font-family="'Liberation Sans',Arial,sans-serif">D</text>
<line x1="610.70" y1="283.50" x2="610.70" y2="287.50" stroke="#2e2a2b" stroke-width="0.8" stroke-linecap="butt"/>
<line x1="606.30" y1="283.50" x2="615.10" y2="283.50" stroke="#2e2a2b" stroke-width="0.85" stroke-linecap="butt"/>
<rect x="597.70" y="287.70" width="25.80" height="53.50" fill="#fff" stroke="#2e2a2b" stroke-width="0.78"/>
<line x1="663.00" y1="238.40" x2="663.00" y2="241.50" stroke="#2e2a2b" stroke-width="0.8" stroke-linecap="butt"/>
<line x1="658.60" y1="238.40" x2="667.40" y2="238.40" stroke="#2e2a2b" stroke-width="0.85" stroke-linecap="butt"/>
<rect x="650.10" y="241.70" width="25.60" height="99.50" fill="#bcbec0" stroke="#2e2a2b" stroke-width="0.78"/>
<line x1="715.55" y1="240.60" x2="715.55" y2="243.10" stroke="#2e2a2b" stroke-width="0.8" stroke-linecap="butt"/>
<line x1="711.15" y1="240.60" x2="719.95" y2="240.60" stroke="#2e2a2b" stroke-width="0.85" stroke-linecap="butt"/>
<rect x="702.40" y="243.30" width="26.10" height="97.90" fill="#231f20" stroke="#2e2a2b" stroke-width="0.78"/>
<line x1="584.40" y1="224.75" x2="584.40" y2="341.70" stroke="#2e2a2b" stroke-width="0.78" stroke-linecap="butt"/>
<line x1="583.90" y1="341.20" x2="741.30" y2="341.20" stroke="#2e2a2b" stroke-width="0.78" stroke-linecap="butt"/>
<line x1="584.40" y1="225.25" x2="588.60" y2="225.25" stroke="#2e2a2b" stroke-width="0.78" stroke-linecap="butt"/>
<text x="577.60" y="229.55" font-size="11.5" text-anchor="end" fill="#2b2728" textLength="30.90" lengthAdjust="spacingAndGlyphs">25,000</text>
<line x1="584.40" y1="248.44" x2="588.60" y2="248.44" stroke="#2e2a2b" stroke-width="0.78" stroke-linecap="butt"/>
<text x="577.60" y="252.74" font-size="11.5" text-anchor="end" fill="#2b2728" textLength="30.90" lengthAdjust="spacingAndGlyphs">20,000</text>
<line x1="584.40" y1="271.63" x2="588.60" y2="271.63" stroke="#2e2a2b" stroke-width="0.78" stroke-linecap="butt"/>
<text x="577.60" y="275.93" font-size="11.5" text-anchor="end" fill="#2b2728" textLength="30.90" lengthAdjust="spacingAndGlyphs">15,000</text>
<line x1="584.40" y1="294.82" x2="588.60" y2="294.82" stroke="#2e2a2b" stroke-width="0.78" stroke-linecap="butt"/>
<text x="577.60" y="299.12" font-size="11.5" text-anchor="end" fill="#2b2728" textLength="30.90" lengthAdjust="spacingAndGlyphs">10,000</text>
<line x1="584.40" y1="318.01" x2="588.60" y2="318.01" stroke="#2e2a2b" stroke-width="0.78" stroke-linecap="butt"/>
<text x="577.60" y="322.31" font-size="11.5" text-anchor="end" fill="#2b2728" textLength="25.40" lengthAdjust="spacingAndGlyphs">5,000</text>
<text x="577.60" y="345.50" font-size="11.5" text-anchor="end" fill="#2b2728" textLength="5.50" lengthAdjust="spacingAndGlyphs">0</text>
<text x="536.50" y="283.30" font-size="12" text-anchor="middle" fill="#2b2728" textLength="45.30" lengthAdjust="spacingAndGlyphs" transform="rotate(-90 536.50 283.30)">ITT AUC</text>
<text x="610.50" y="355.70" font-size="12" text-anchor="middle" fill="#2b2728" textLength="28.00" lengthAdjust="spacingAndGlyphs">Chow</text>
<text x="662.80" y="355.70" font-size="12" text-anchor="middle" fill="#2b2728" textLength="15.00" lengthAdjust="spacingAndGlyphs">HF</text>
<text x="715.35" y="355.70" font-size="12" text-anchor="middle" fill="#2b2728" textLength="43.00" lengthAdjust="spacingAndGlyphs">DA-1241</text>
<line x1="610.40" y1="219.80" x2="715.30" y2="219.80" stroke="#5a5657" stroke-width="1.0" stroke-linecap="butt"/>
<text x="663.20" y="217.10" font-size="9.5" text-anchor="middle" fill="#2b2728">c</text>
<line x1="610.40" y1="232.90" x2="663.10" y2="232.90" stroke="#8a8788" stroke-width="1.2" stroke-linecap="butt"/>
<text x="636.90" y="230.00" font-size="9.5" text-anchor="middle" fill="#2b2728">c</text>
<circle cx="754.40" cy="354.20" r="8.7" fill="#1f1b1c"/>
<text x="754.40" y="358.90" font-size="13" text-anchor="middle" fill="#fff" font-weight="bold" font-family="'Liberation Sans',Arial,sans-serif">F</text>
</svg>
</body>
</html>
